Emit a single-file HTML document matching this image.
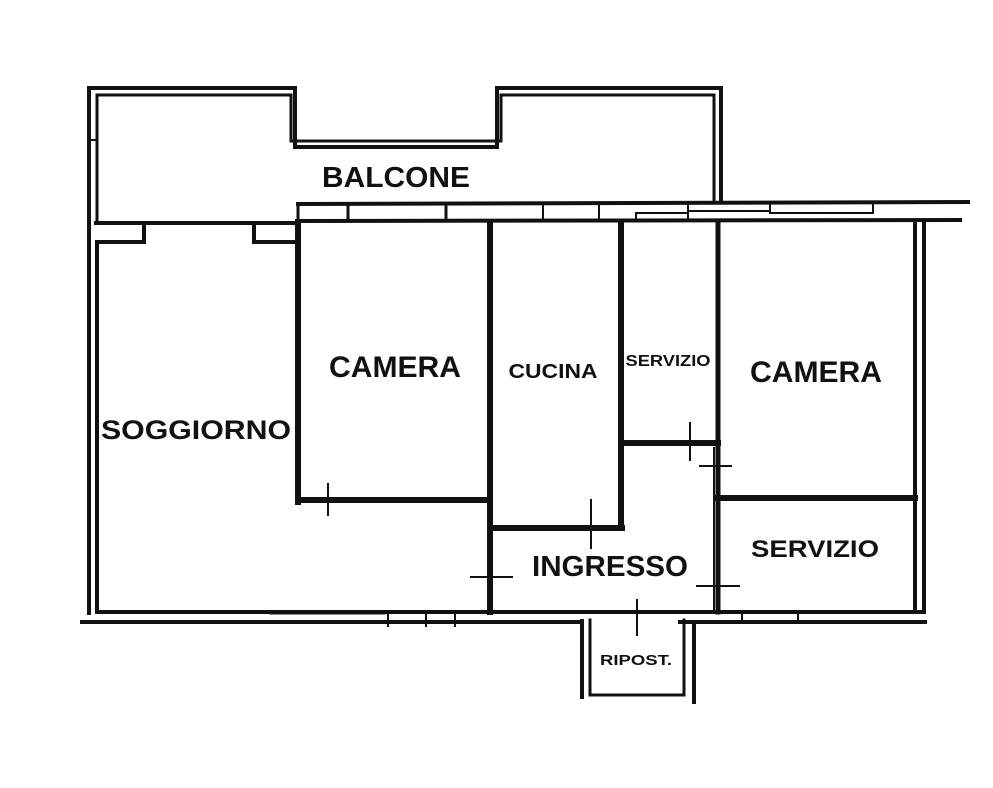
<!DOCTYPE html>
<html><head><meta charset="utf-8"><style>
html,body{margin:0;padding:0;background:#fff;}
svg{display:block;}
text{font-family:"Liberation Sans",sans-serif;font-weight:bold;fill:#111;}
</style></head><body>
<svg width="993" height="788" viewBox="0 0 993 788" xmlns="http://www.w3.org/2000/svg">
<g stroke="#111" fill="none" stroke-linecap="square">
<path d="M89 223 V88 H295 V147 H497 V88 H721 V200" stroke-width="4"/>
<path d="M97 221 V95 H291 V141 H501 V95 H714 V200" stroke-width="3"/>
<line x1="89" y1="140" x2="97" y2="140" stroke-width="2"/>
<line x1="298" y1="204" x2="968" y2="202" stroke-width="4"/>
<line x1="298" y1="221" x2="960" y2="220" stroke-width="4"/>
<line x1="298" y1="204" x2="298" y2="221" stroke-width="3"/>
<line x1="348" y1="204" x2="348" y2="221" stroke-width="3"/>
<line x1="446" y1="204" x2="446" y2="221" stroke-width="3"/>
<line x1="543" y1="204" x2="543" y2="221" stroke-width="2"/>
<line x1="599" y1="204" x2="599" y2="221" stroke-width="2"/>
<path d="M636 221 V213 H688 V221" stroke-width="2"/>
<path d="M688 204 V211 H770 V204" stroke-width="2"/>
<path d="M770 213 H873 V204" stroke-width="2"/>
<line x1="96" y1="223" x2="298" y2="223" stroke-width="4"/>
<path d="M97 242 H144 V224" stroke-width="4"/>
<path d="M254 224 V242 H298" stroke-width="4"/>
<line x1="89" y1="225" x2="89" y2="613" stroke-width="4"/>
<line x1="97" y1="244" x2="97" y2="611" stroke-width="4"/>
<line x1="97" y1="612" x2="922" y2="612" stroke-width="4"/>
<line x1="82" y1="622" x2="582" y2="622" stroke-width="4"/>
<line x1="680" y1="622" x2="925" y2="622" stroke-width="4"/>
<line x1="270" y1="614" x2="385" y2="614" stroke-width="1"/>
<line x1="388" y1="614" x2="388" y2="626" stroke-width="2"/>
<line x1="426" y1="614" x2="426" y2="626" stroke-width="2"/>
<line x1="455" y1="614" x2="455" y2="626" stroke-width="2"/>
<line x1="742" y1="612" x2="742" y2="622" stroke-width="2"/>
<line x1="798" y1="612" x2="798" y2="622" stroke-width="2"/>
<line x1="915" y1="221" x2="915" y2="610" stroke-width="4"/>
<line x1="924" y1="221" x2="924" y2="612" stroke-width="4"/>
<line x1="298" y1="222" x2="298" y2="502" stroke-width="6"/>
<line x1="298" y1="500" x2="490" y2="500" stroke-width="6"/>
<line x1="490" y1="222" x2="490" y2="612" stroke-width="6"/>
<line x1="490" y1="528" x2="622" y2="528" stroke-width="6"/>
<line x1="621" y1="222" x2="621" y2="528" stroke-width="6"/>
<line x1="621" y1="443" x2="718" y2="443" stroke-width="6"/>
<line x1="718" y1="222" x2="718" y2="612" stroke-width="5"/>
<line x1="714" y1="448" x2="714" y2="610" stroke-width="2"/>
<line x1="718" y1="498" x2="915" y2="498" stroke-width="6"/>
<g stroke-width="2">
<line x1="328" y1="484" x2="328" y2="515"/>
<line x1="471" y1="577" x2="512" y2="577"/>
<line x1="591" y1="500" x2="591" y2="548"/>
<line x1="690" y1="423" x2="690" y2="460"/>
<line x1="700" y1="466" x2="731" y2="466"/>
<line x1="697" y1="586" x2="739" y2="586"/>
<line x1="637" y1="600" x2="637" y2="635"/>
</g>
<line x1="582" y1="621" x2="582" y2="697" stroke-width="4"/>
<line x1="590" y1="620" x2="590" y2="695" stroke-width="3"/>
<line x1="590" y1="695" x2="684" y2="695" stroke-width="3"/>
<line x1="684" y1="620" x2="684" y2="695" stroke-width="3"/>
<line x1="694" y1="622" x2="694" y2="702" stroke-width="4"/>
</g>
<text x="396" y="187" font-size="29" text-anchor="middle" textLength="148" lengthAdjust="spacingAndGlyphs">BALCONE</text>
<text x="395" y="377" font-size="30" text-anchor="middle" textLength="132" lengthAdjust="spacingAndGlyphs">CAMERA</text>
<text x="196" y="439" font-size="27" text-anchor="middle" textLength="190" lengthAdjust="spacingAndGlyphs">SOGGIORNO</text>
<text x="553" y="378" font-size="20" text-anchor="middle" textLength="89" lengthAdjust="spacingAndGlyphs">CUCINA</text>
<text x="668" y="366" font-size="16" text-anchor="middle" textLength="85" lengthAdjust="spacingAndGlyphs">SERVIZIO</text>
<text x="816" y="382" font-size="30" text-anchor="middle" textLength="132" lengthAdjust="spacingAndGlyphs">CAMERA</text>
<text x="815" y="557" font-size="24" text-anchor="middle" textLength="128" lengthAdjust="spacingAndGlyphs">SERVIZIO</text>
<text x="610" y="576" font-size="29" text-anchor="middle" textLength="156" lengthAdjust="spacingAndGlyphs">INGRESSO</text>
<text x="636" y="665" font-size="15" text-anchor="middle" textLength="72" lengthAdjust="spacingAndGlyphs">RIPOST.</text>
</svg>
</body></html>
